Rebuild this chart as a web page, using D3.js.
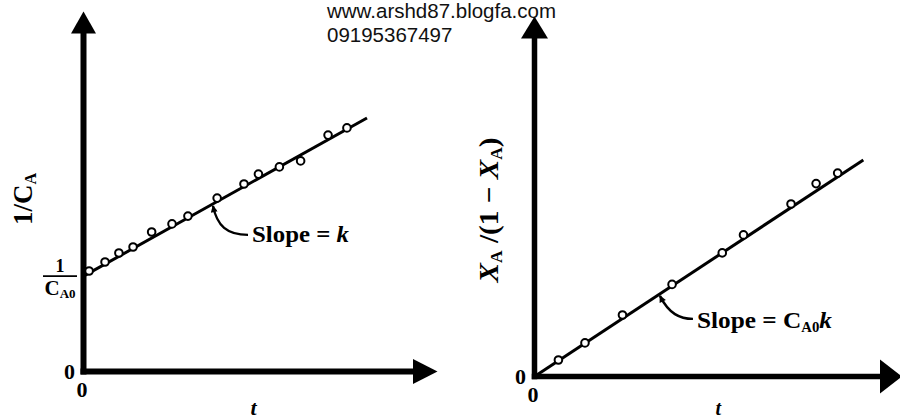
<!DOCTYPE html>
<html><head><meta charset="utf-8">
<script src="https://cdn.jsdelivr.net/npm/d3@7"></script>
<style>body{margin:0;background:#fff}svg{display:block}</style>
</head><body>
<svg id="c" width="900" height="420"></svg>
<script>
// ---------- data ----------
const leftT      = [0.19, 0.73, 1.20, 1.68, 2.31, 3.00, 3.54, 4.53, 5.44, 5.93, 6.64, 7.36, 8.29, 8.93];
const leftInvCA  = [3.35, 3.65, 3.95, 4.15, 4.65, 4.92, 5.18, 5.78, 6.25, 6.58, 6.82, 7.02, 7.88, 8.12];
const leftFitT   = [0, 9.61];
const leftFitY   = [3.18, 8.45];
const rightT     = [0.81, 1.71, 2.98, 4.66, 6.36, 7.08, 8.69, 9.54, 10.27];
const rightRatio = [0.55, 1.12, 2.05, 3.07, 4.12, 4.72, 5.75, 6.43, 6.78];
const rightFitT  = [0, 11.14];
const rightFitY  = [0, 7.22];
const zeroLabels = ["0", "0"];
const watermark  = ["www.arshd87.blogfa.com", "09195367497"];

// ---------- setup ----------
const svg = d3.select("#c");
const serif = "'Liberation Serif','DejaVu Serif',serif";

function panel(cfg) {
  const {x, y, xTip, yTip, T, Y, fitT, fitY, axisW, yArrowLen, yArrowHalf, xArrowLen, xArrowHalf, anchorT} = cfg;
  const g = svg.append("g");
  const ox = x(0), oy = y(0);
  // axes
  g.append("line").attr("x1", ox).attr("x2", ox).attr("y1", oy + axisW/2).attr("y2", y(yTip) + yArrowLen - 1)
    .attr("stroke", "#000").attr("stroke-width", axisW);
  g.append("line").attr("x1", ox - axisW/2).attr("x2", x(xTip) - xArrowLen + 1).attr("y1", oy).attr("y2", oy)
    .attr("stroke", "#000").attr("stroke-width", axisW);
  g.append("path").attr("d", `M${ox},${y(yTip)} L${ox + yArrowHalf},${y(yTip) + yArrowLen} L${ox - yArrowHalf},${y(yTip) + yArrowLen} Z`)
    .attr("fill", "#000");
  g.append("path").attr("d", `M${x(xTip)},${oy} L${x(xTip) - xArrowLen},${oy - xArrowHalf} L${x(xTip) - xArrowLen},${oy + xArrowHalf} Z`)
    .attr("fill", "#000");
  // zero labels
  g.append("text").attr("x", ox - 14).attr("y", oy + 7).attr("text-anchor", "middle")
    .attr("font-family", serif).attr("font-weight", "bold").attr("font-size", 22).text(zeroLabels[0]);
  g.append("text").attr("x", ox - 1.5).attr("y", oy + 25).attr("text-anchor", "middle")
    .attr("font-family", serif).attr("font-weight", "bold").attr("font-size", 22).text(zeroLabels[1]);
  // fit line
  const line = d3.line().x(d => x(d[0])).y(d => y(d[1]));
  g.append("path").attr("d", line(d3.zip(fitT, fitY))).attr("stroke", "#000").attr("stroke-width", 3).attr("fill", "none");
  // points
  g.selectAll("circle").data(d3.zip(T, Y)).join("circle")
    .attr("cx", d => x(d[0])).attr("cy", d => y(d[1])).attr("r", 3.8)
    .attr("fill", "#fff").attr("stroke", "#000").attr("stroke-width", 2);
  // annotation anchor on fit line
  const slope = (fitY[1] - fitY[0]) / (fitT[1] - fitT[0]);
  const ax = x(anchorT), ay = y(fitY[0] + slope * (anchorT - fitT[0]));
  return {g, ax, ay, ox, oy};
}

// arrow marker for annotation pointer
svg.append("defs").append("marker").attr("id", "ah").attr("viewBox", "0 0 10 10")
  .attr("refX", 9).attr("refY", 5).attr("markerWidth", 9).attr("markerHeight", 7)
  .attr("markerUnits", "userSpaceOnUse").attr("orient", "auto-start-reverse")
  .append("path").attr("d", "M0,0 L10,5 L0,10 Z").attr("fill", "#000");

// ---------- left panel ----------
const xL = d3.scaleLinear([0, 12], [83.5, 437.5]);
const yL = d3.scaleLinear([0, 12], [371.5, 11.5]);
const L = panel({x: xL, y: yL, xTip: 12, yTip: 12, T: leftT, Y: leftInvCA, fitT: leftFitT, fitY: leftFitY,
  axisW: 6, yArrowLen: 22, yArrowHalf: 12.5, xArrowLen: 24.5, xArrowHalf: 12.5, anchorT: 4.39});

// ---------- right panel ----------
const xR = d3.scaleLinear([0, 12.45], [534.5, 902]);
const yR = d3.scaleLinear([0, 12], [376.5, 16.5]);
const R = panel({x: xR, y: yR, xTip: 12.45, yTip: 12, T: rightT, Y: rightRatio, fitT: rightFitT, fitY: rightFitY,
  axisW: 5.5, yArrowLen: 22, yArrowHalf: 13.5, xArrowLen: 22, xArrowHalf: 17, anchorT: 4.25});

// annotation pointers
function pointer(P, pts) {
  const p = d3.path();
  p.moveTo(P.ax, P.ay + 2);
  p.bezierCurveTo(P.ax + pts[0][0], P.ay + pts[0][1], P.ax + pts[1][0], P.ay + pts[1][1], P.ax + pts[2][0], P.ay + pts[2][1]);
  svg.append("path").attr("d", p.toString()).attr("fill", "none").attr("stroke", "#000").attr("stroke-width", 2.4)
    .attr("marker-start", "url(#ah)");
}
pointer(L, [[4, 22], [14, 31], [35, 31]]);
pointer(R, [[9, 20], [20, 25], [33, 25]]);

// annotation texts
const tL = svg.append("text").attr("x", L.ax + 39).attr("y", L.ay + 38)
  .attr("font-family", serif).attr("font-weight", "bold").attr("font-size", 23)
  .attr("textLength", 97).attr("lengthAdjust", "spacingAndGlyphs");
tL.append("tspan").text("Slope = ");
tL.append("tspan").attr("font-style", "italic").text("k");

const tR = svg.append("text").attr("x", R.ax + 37).attr("y", R.ay + 34)
  .attr("font-family", serif).attr("font-weight", "bold").attr("font-size", 24)
  .attr("textLength", 135).attr("lengthAdjust", "spacingAndGlyphs");
tR.append("tspan").text("Slope = C");
tR.append("tspan").attr("font-size", 14).attr("dy", 4).text("A0");
tR.append("tspan").attr("font-style", "italic").attr("dy", -4).text("k");

// y-axis labels
const yl1 = svg.append("text").attr("transform", `translate(32,199) rotate(-90)`).attr("text-anchor", "middle")
  .attr("font-family", serif).attr("font-weight", "bold").attr("font-size", 27);
yl1.append("tspan").text("1/C");
yl1.append("tspan").attr("font-size", 16).attr("dy", 4).text("A");

const yl2 = svg.append("text").attr("transform", `translate(498,210) rotate(-90)`).attr("text-anchor", "middle")
  .attr("font-family", serif).attr("font-weight", "bold").attr("font-size", 27)
  .attr("textLength", 145).attr("lengthAdjust", "spacingAndGlyphs");
yl2.append("tspan").attr("font-style", "italic").text("X");
yl2.append("tspan").attr("font-size", 16).attr("dy", 4).text("A");
yl2.append("tspan").attr("dy", -4).text(" /(1 \u2212 ");
yl2.append("tspan").attr("font-style", "italic").text("X");
yl2.append("tspan").attr("font-size", 16).attr("dy", 4).text("A");
yl2.append("tspan").attr("dy", -4).text(")");

// 1/CA0 intercept label (left)
const fx = L.ox - 23.5, fy = yL(leftFitY[0]);
svg.append("text").attr("x", fx).attr("y", fy - 4).attr("text-anchor", "middle")
  .attr("font-family", serif).attr("font-weight", "bold").attr("font-size", 18).text("1");
svg.append("line").attr("x1", fx - 17).attr("x2", fx + 17).attr("y1", fy).attr("y2", fy)
  .attr("stroke", "#000").attr("stroke-width", 1.6);
const ca = svg.append("text").attr("x", fx).attr("y", fy + 19).attr("text-anchor", "middle")
  .attr("font-family", serif).attr("font-weight", "bold").attr("font-size", 21);
ca.append("tspan").text("C");
ca.append("tspan").attr("font-size", 13).attr("dy", 3).text("A0");

// t labels
svg.append("text").attr("x", (xL.range()[0] + xL.range()[1]) / 2 - 7).attr("y", 415).attr("text-anchor", "middle")
  .attr("font-family", serif).attr("font-weight", "bold").attr("font-style", "italic").attr("font-size", 22).text("t");
svg.append("text").attr("x", (xR.range()[0] + xR.range()[1]) / 2).attr("y", 415).attr("text-anchor", "middle")
  .attr("font-family", serif).attr("font-weight", "bold").attr("font-style", "italic").attr("font-size", 20).text("t");

// watermark
svg.selectAll("text.wm").data(watermark).join("text").attr("class", "wm")
  .attr("x", 327).attr("y", (d, i) => 17.5 + i * 24.5)
  .attr("font-family", "'Liberation Sans',Arial,sans-serif").attr("font-size", 20.5).attr("fill", "#111")
  .text(d => d);
</script>
</body></html>
